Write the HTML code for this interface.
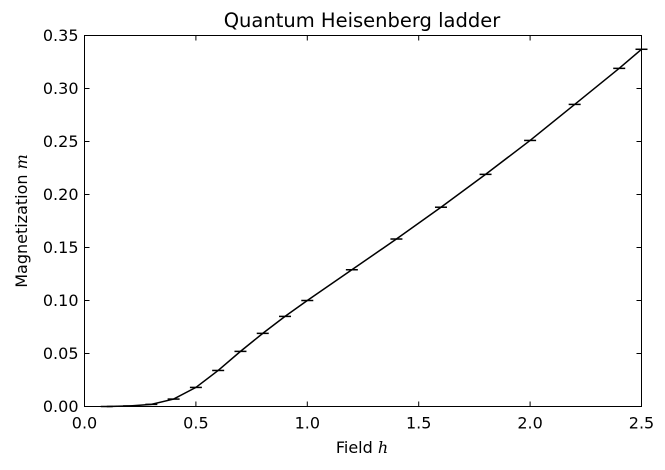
<!DOCTYPE html>
<html><head><meta charset="utf-8"><style>
body{margin:0;background:#fff;}
svg{display:block;font-family:"DejaVu Sans","Liberation Sans",sans-serif;}
</style></head><body>
<svg id="chart" width="665" height="470" viewBox="0 0 665 470">
<rect x="0" y="0" width="665" height="470" fill="#fff"/>
<text x="362" y="27" font-size="19.5" text-anchor="middle">Quantum Heisenberg ladder</text>
<g id="axes"></g>
<g id="series"></g>
<rect x="84.5" y="35.5" width="557" height="371" fill="none" stroke="#000" stroke-width="1"/>
<text x="362" y="453" font-size="16" text-anchor="middle">Field <tspan font-family="DejaVu Serif" font-style="italic">h</tspan></text>
<text transform="translate(27,221) rotate(-90)" font-size="16" text-anchor="middle">Magnetization <tspan font-family="DejaVu Serif" font-style="italic">m</tspan></text>
</svg>
<script>
const fields=[0.1,0.2,0.3,0.4,0.5,0.6,0.7,0.8,0.9,1.0,1.2,1.4,1.6,1.8,2.0,2.2,2.4,2.5];
const magnetization=[0.0,0.0005,0.002,0.007,0.018,0.034,0.052,0.069,0.085,0.100,0.129,0.158,0.188,0.219,0.251,0.285,0.319,0.337];
const xTicks=[0.0,0.5,1.0,1.5,2.0,2.5];
const xTickLabels=["0.0","0.5","1.0","1.5","2.0","2.5"];
const yTicks=[0,0.05,0.10,0.15,0.20,0.25,0.30,0.35];
const yTickLabels=["0.00","0.05","0.10","0.15","0.20","0.25","0.30","0.35"];
const X0=84.5,X1=641.5,Y0=406.5,Y1=35.5;
const sx=v=>X0+(v-0)/(2.5)*(X1-X0);
const sy=v=>Y0-(v-0)/(0.35)*(Y0-Y1);
const NS="http://www.w3.org/2000/svg";
const axes=document.getElementById('axes'),series=document.getElementById('series');
function mk(tag,attrs,parent){const e=document.createElementNS(NS,tag);for(const k in attrs)e.setAttribute(k,attrs[k]);parent.appendChild(e);return e;}
xTicks.forEach((t,i)=>{
  const x=sx(t);
  const l1=mk('line',{x1:x,x2:x,y1:Y0,y2:Y0-5,stroke:'#000'},axes);
  
  
  const l2=mk('line',{x1:x,x2:x,y1:Y1,y2:Y1+5,stroke:'#000'},axes);
  
  
  const tx=mk('text',{x:x,y:Y0+22,'font-size':16,'text-anchor':'middle'},axes);
  tx.textContent=xTickLabels[i];
  
  
});
yTicks.forEach((t,i)=>{
  const y=sy(t);
  const l1=mk('line',{x1:X0,x2:X0+5,y1:y,y2:y,stroke:'#000'},axes);
  
  
  const l2=mk('line',{x1:X1,x2:X1-5,y1:y,y2:y,stroke:'#000'},axes);
  
  
  const tx=mk('text',{x:X0-6,y:y+5.5,'font-size':16,'text-anchor':'end'},axes);
  tx.textContent=yTickLabels[i];
  
  
});
const pts=fields.map((f,i)=>sx(f)+','+sy(magnetization[i])).join(' ');
const line=mk('polyline',{points:pts,fill:'none',stroke:'#000','stroke-width':1.5},series);


fields.forEach((f,i)=>{
  const x=sx(f),y=sy(magnetization[i]);
  const c=mk('line',{x1:x-6,x2:x+6,y1:y,y2:y,stroke:'#000','stroke-width':1.5},series);
  
  
});
</script>
</body></html>
